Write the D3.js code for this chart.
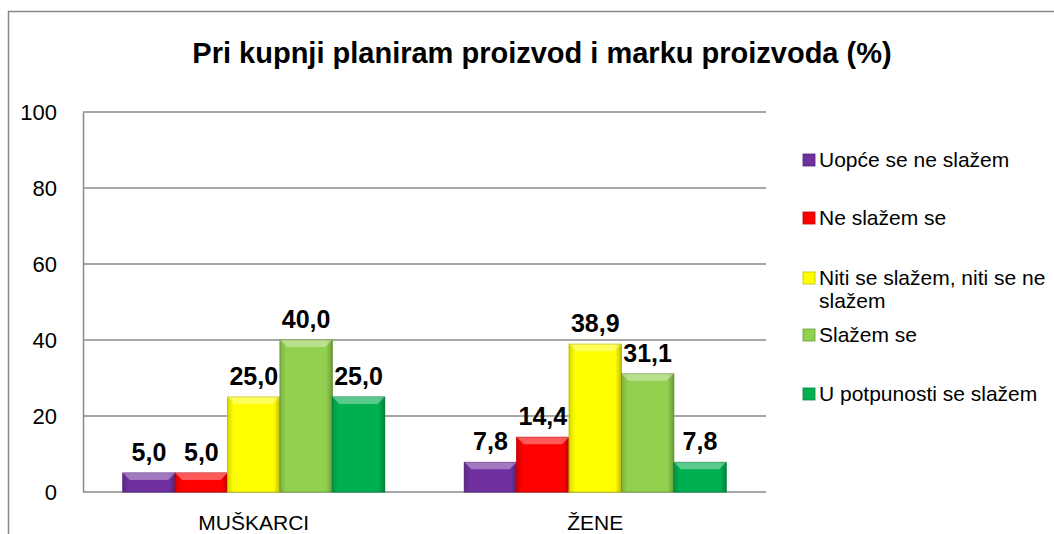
<!DOCTYPE html>
<html>
<head>
<meta charset="utf-8">
<script src="https://cdn.jsdelivr.net/npm/d3@7"></script>
<style>
  body { margin: 0; background: #fff; }
  svg { display: block; font-family: "Liberation Sans", Arial, sans-serif; }
</style>
</head>
<body>
<div id="chart"></div>
<script>
(function(d3) {
  'use strict';

  // data
  var categories = ['MUŠKARCI', 'ŽENE'];
  var seriesNames = ['Uopće se ne slažem', 'Ne slažem se', 'Niti se slažem, niti se ne slažem', 'Slažem se', 'U potpunosti se slažem'];
  var seriesColors = ['#7030A0', '#FF0000', '#FFFF00', '#92D050', '#00B050'];
  var values = [
    [5.0, 7.8],
    [5.0, 14.4],
    [25.0, 38.9],
    [40.0, 31.1],
    [25.0, 7.8]
  ];
  var yTicks = [0, 20, 40, 60, 80, 100];
  var title = 'Pri kupnji planiram proizvod i marku proizvoda (%)';

  var W = 1054, H = 534;
  var plot = {left: 83, top: 112, right: 766, bottom: 492};

  var svg = d3.select('#chart').append('svg')
    .attr('width', W)
    .attr('height', H);

  // chart frame
  svg.append('path')
    .attr('d', 'M8.5,' + H + 'V11.5H' + W)
    .attr('fill', 'none')
    .attr('stroke', '#888')
    .attr('stroke-width', 1.5);

  svg.append('text')
    .attr('x', 542)
    .attr('y', 63)
    .attr('text-anchor', 'middle')
    .style('font-size', '29px')
    .style('font-weight', 'bold')
    .text(title);

  var y = d3.scaleLinear().domain([0, 100]).range([plot.bottom, plot.top]);
  var x0 = d3.scaleBand().domain(categories).range([plot.left, plot.right]).paddingInner(0).paddingOuter(0);
  var x1 = d3.scaleBand().domain(d3.range(seriesNames.length))
    .range([0, x0.bandwidth()]).paddingInner(0).paddingOuter(0.76);

  // gridlines
  svg.append('g').selectAll('line')
    .data(yTicks)
    .join('line')
    .attr('x1', plot.left)
    .attr('x2', plot.right)
    .attr('y1', function(d){ return y(d); })
    .attr('y2', function(d){ return y(d); })
    .attr('stroke', '#8a8a8a')
    .attr('stroke-width', 1.5);

  // y axis
  var yAxis = d3.axisLeft(y).tickValues(yTicks).tickSize(0).tickPadding(26);
  var yg = svg.append('g')
    .attr('transform', 'translate(' + plot.left + ',0)')
    .call(yAxis);
  yg.select('.domain').attr('stroke', '#8a8a8a').attr('stroke-width', 1.5);
  yg.selectAll('text')
    .attr('font-family', '"Liberation Sans", Arial, sans-serif')
    .style('font-size', '22px')
    .attr('fill', '#000');

  // x axis labels
  svg.append('g').selectAll('text')
    .data(categories)
    .join('text')
    .attr('x', function(d){ return x0(d) + x0.bandwidth() / 2; })
    .attr('y', 530)
    .attr('text-anchor', 'middle')
    .style('font-size', '21px')
    .text(function(d){ return d; });

  var defs = svg.append('defs');
  var shade = defs.append('linearGradient').attr('id', 'shade').attr('x1', 0).attr('x2', 1).attr('y1', 0).attr('y2', 0);
  shade.append('stop').attr('offset', '0').attr('stop-color', '#000').attr('stop-opacity', 0.15);
  shade.append('stop').attr('offset', '0.12').attr('stop-color', '#000').attr('stop-opacity', 0);
  shade.append('stop').attr('offset', '0.88').attr('stop-color', '#000').attr('stop-opacity', 0);
  shade.append('stop').attr('offset', '1').attr('stop-color', '#000').attr('stop-opacity', 0.25);

  var bars = [];
  values.forEach(function(row, s) {
    row.forEach(function(v, c) {
      bars.push({s: s, c: c, v: v});
    });
  });

  var bw = x1.bandwidth();
  var bev = 7;
  var g = svg.append('g');
  var bar = g.selectAll('g.bar')
    .data(bars)
    .join('g')
    .attr('class', 'bar')
    .attr('transform', function(d){ return 'translate(' + (x0(categories[d.c]) + x1(d.s)) + ',0)'; });

  bar.append('rect')
    .attr('x', 0)
    .attr('y', function(d){ return y(d.v); })
    .attr('width', bw)
    .attr('height', function(d){ return y(0) - y(d.v); })
    .attr('fill', function(d){ return seriesColors[d.s]; })
    .attr('stroke', function(d){ return d3.color(seriesColors[d.s]).darker(0.6); })
    .attr('stroke-width', 1);

  bar.append('rect')
    .attr('x', 0)
    .attr('y', function(d){ return y(d.v); })
    .attr('width', bw)
    .attr('height', function(d){ return y(0) - y(d.v); })
    .attr('fill', 'url(#shade)');

  // top bevel
  bar.append('path')
    .attr('d', function(d) {
      var t = y(d.v);
      return 'M0,' + t + 'L' + bw + ',' + t + 'L' + (bw - bev) + ',' + (t + bev) + 'L' + bev + ',' + (t + bev) + 'Z';
    })
    .attr('fill', '#fff')
    .attr('fill-opacity', 0.35);

  // value labels
  g.selectAll('text.val')
    .data(bars)
    .join('text')
    .attr('class', 'val')
    .attr('x', function(d){ return x0(categories[d.c]) + x1(d.s) + bw / 2; })
    .attr('y', function(d){ return y(d.v) - 12; })
    .attr('text-anchor', 'middle')
    .style('font-size', '25px')
    .style('font-weight', 'bold')
    .text(function(d){ return d3.format('.1f')(d.v).replace('.', ','); });

  // legend
  var legendY = [167, 225, 285, 342, 401];
  var leg = svg.append('g').selectAll('g')
    .data(seriesNames)
    .join('g')
    .attr('transform', function(d, i){ return 'translate(803,' + legendY[i] + ')'; });
  leg.append('rect')
    .attr('x', 0).attr('y', -13)
    .attr('width', 12).attr('height', 12)
    .attr('fill', function(d, i){ return seriesColors[i]; })
    .attr('stroke', function(d, i){ return d3.color(seriesColors[i]).darker(0.8); })
    .attr('stroke-width', 0.8);
  leg.append('text')
    .attr('x', 16)
    .attr('y', 0)
    .style('font-size', '21px')
    .each(function(d) {
      var t = d3.select(this);
      if (d.indexOf('niti se ne') > 0) {
        t.append('tspan').attr('x', 16).text('Niti se slažem, niti se ne');
        t.append('tspan').attr('x', 16).attr('dy', 23).text('slažem');
      } else {
        t.text(d);
      }
    });
})(window.d3);
</script>
</body>
</html>
